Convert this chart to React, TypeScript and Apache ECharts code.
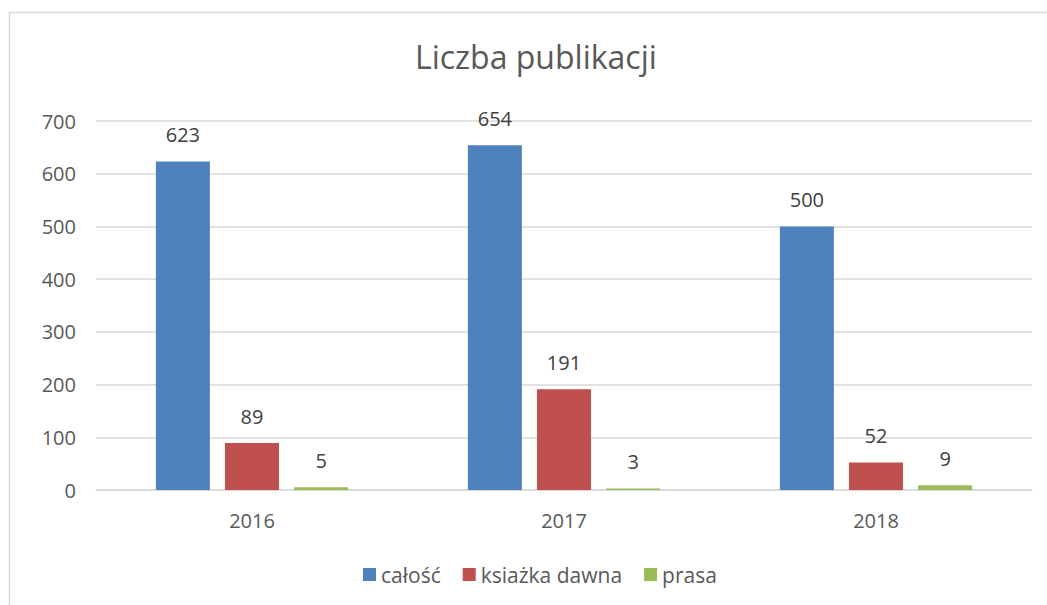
import React, { useEffect, useRef } from "react";
import * as echarts from "echarts";

const categories = ["2016", "2017", "2018"];
const calosc = [623, 654, 500];
const ksiazkaDawna = [89, 191, 52];
const prasa = [5, 3, 9];
const yTicks = { min: 0, max: 700, interval: 100 };

const FONT = "'Open Sans', 'Noto Sans', sans-serif";

export default function App() {
  const ref = useRef<HTMLDivElement>(null);
  useEffect(() => {
    document.body.style.margin = "0";
    if (!ref.current) return;
    const chart = echarts.init(ref.current, undefined, { renderer: "svg" });
    const label = {
      show: true,
      position: "top" as const,
      distance: 17,
      color: "#404040",
      fontSize: 20,
      fontFamily: FONT,
    };
    chart.setOption({
      animation: false,
      backgroundColor: "#ffffff",
      textStyle: { fontFamily: FONT },
      title: {
        text: "Liczba publikacji",
        left: 410,
        top: 35,
        textStyle: { fontSize: 32, fontWeight: "normal", color: "#595959", fontFamily: FONT },
      },
      graphic: [
        {
          type: "rect",
          shape: { x: 9.5, y: 12.5, width: 1200, height: 800 },
          style: { fill: "none", stroke: "#d9d9d9", lineWidth: 1.5 },
          silent: true,
          z: -10,
        },
      ],
      legend: {
        bottom: 15,
        left: 358,
        itemWidth: 13,
        itemHeight: 13,
        itemGap: 22,
        icon: "rect",
        textStyle: { fontSize: 21, color: "#595959", fontFamily: FONT },
        data: ["całość", "ksiażka dawna", "prasa"],
      },
      grid: { left: 96, right: 15, top: 121, bottom: 115, containLabel: false },
      xAxis: {
        type: "category",
        data: categories,
        axisLine: { lineStyle: { color: "#d9d9d9", width: 1.5 } },
        axisTick: { show: false },
        axisLabel: { color: "#595959", fontSize: 20, margin: 20, fontFamily: FONT },
      },
      yAxis: {
        type: "value",
        min: yTicks.min,
        max: yTicks.max,
        interval: yTicks.interval,
        axisLine: { show: false },
        axisTick: { show: false },
        axisLabel: { color: "#595959", fontSize: 20, margin: 20, fontFamily: FONT },
        splitLine: { lineStyle: { color: "#d9d9d9", width: 1.5 } },
      },
      series: [
        { name: "całość", type: "bar", data: calosc, barWidth: 54, barGap: "28%", itemStyle: { color: "#4F81BD" }, label },
        { name: "ksiażka dawna", type: "bar", data: ksiazkaDawna, barWidth: 54, barGap: "28%", itemStyle: { color: "#C0504D" }, label },
        { name: "prasa", type: "bar", data: prasa, barWidth: 54, barGap: "28%", itemStyle: { color: "#9BBB59" }, label },
      ],
    });
    return () => chart.dispose();
  }, []);
  return <div ref={ref} style={{ width: 1047, height: 605 }} />;
}
